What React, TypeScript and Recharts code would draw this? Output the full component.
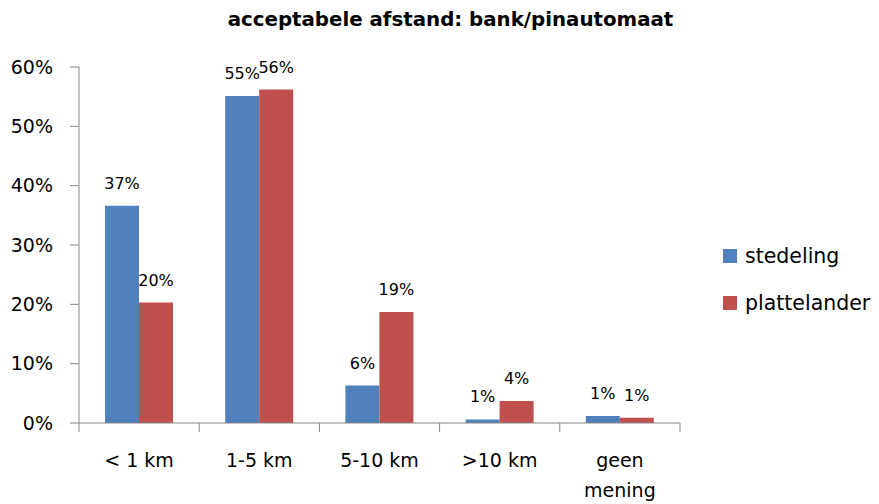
import { BarChart, Bar, XAxis, YAxis, LabelList } from 'recharts';

const categories = ['< 1 km', '1-5 km', '5-10 km', '>10 km', 'geen\nmening'];
const stedeling = [36.6, 55.1, 6.3, 0.6, 1.2];
const plattelander = [20.3, 56.2, 18.7, 3.7, 0.9];
const yTicks = [0, 10, 20, 30, 40, 50, 60];
const seriesNames = ['stedeling', 'plattelander'];
const seriesColors = ['#4F81BD', '#C0504D'];

const data = categories.map((c, i) => ({
  name: c,
  stedeling: stedeling[i],
  plattelander: plattelander[i],
}));

const AXIS = '#868686';
const FONT = '"DejaVu Sans", sans-serif';

const CategoryTick = (props: any) => {
  const { x, y, payload, index, visibleTicksCount } = props;
  const half = payload.offset || 60;
  const lines = String(payload.value).split('\n');
  return (
    <g>
      <line x1={x - half} x2={x - half} y1={y} y2={y + 9} stroke={AXIS} />
      {index === visibleTicksCount - 1 && (
        <line x1={x + half} x2={x + half} y1={y} y2={y + 9} stroke={AXIS} />
      )}
      <text x={x} y={y + 44} textAnchor="middle" fontSize={19} fill="#000" fontFamily={FONT}>
        {lines.map((l, i) => (
          <tspan key={i} x={x} dy={i === 0 ? 0 : 30}>
            {l}
          </tspan>
        ))}
      </text>
    </g>
  );
};

export default function App() {
  return (
    <div style={{ position: 'absolute', left: 0, top: 0, width: 879, height: 504, background: '#fff', fontFamily: FONT }}>
      <div
        style={{
          position: 'absolute',
          left: 0,
          width: 901,
          top: 9,
          textAlign: 'center',
          fontWeight: 'bold',
          fontSize: 19.8,
          lineHeight: '22px',
          color: '#000',
        }}
      >
        acceptabele afstand: bank/pinautomaat
      </div>
      <BarChart
        width={879}
        height={504}
        data={data}
        margin={{ top: 67, right: 199, bottom: 0, left: 0 }}
        barGap={0}
        style={{ fontFamily: FONT }}
      >
        <XAxis
          dataKey="name"
          height={81}
          stroke={AXIS}
          tickLine={false}
          tickSize={0}
          tickMargin={0}
          interval={0}
          tick={<CategoryTick />}
        />
        <YAxis
          width={79}
          domain={[0, 60]}
          ticks={yTicks}
          stroke={AXIS}
          tickSize={9}
          tickMargin={17}
          tickFormatter={(v: number) => `${v}%`}
          tick={{ fill: '#000', fontSize: 19 }}
          interval={0}
        />
        {seriesNames.map((s, i) => (
          <Bar key={s} dataKey={s} fill={seriesColors[i]} barSize={34} isAnimationActive={false}>
            <LabelList
              dataKey={s}
              position="top"
              offset={17}
              fill="#000"
              fontSize={16}
              formatter={(v: any) => `${Math.round(Number(v))}%`}
            />
          </Bar>
        ))}
      </BarChart>
      <div style={{ position: 'absolute', left: 723, top: 232.5 }}>
        {seriesNames.map((s, i) => (
          <div key={s} style={{ display: 'flex', alignItems: 'center', height: 47 }}>
            <span style={{ width: 14, height: 14, background: seriesColors[i], marginRight: 8, display: 'inline-block' }} />
            <span style={{ fontSize: 20.5, color: '#000' }}>{s}</span>
          </div>
        ))}
      </div>
    </div>
  );
}
